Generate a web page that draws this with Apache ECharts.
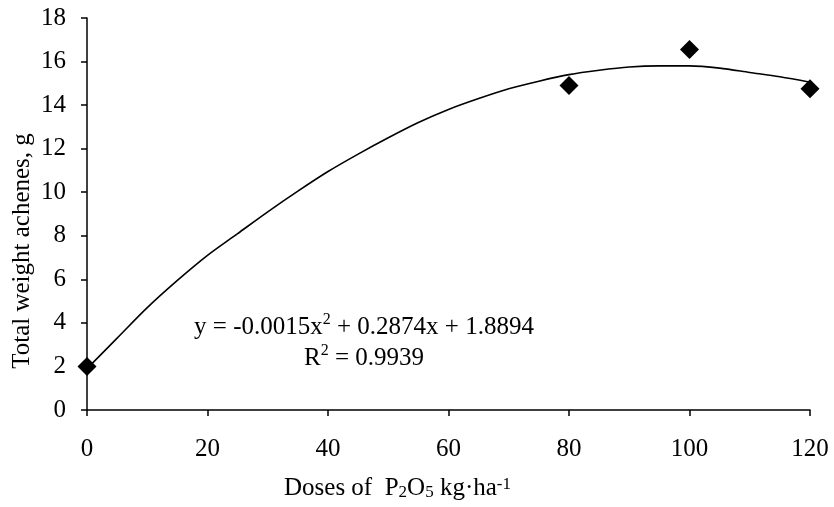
<!DOCTYPE html>
<html>
<head>
<meta charset="utf-8">
<script src="https://cdn.jsdelivr.net/npm/echarts@6/dist/echarts.min.js"></script>
<style>
  html, body { margin: 0; padding: 0; background: #fff; }
  #chart { width: 834px; height: 507px; }
</style>
</head>
<body>
<div id="chart"></div>
<script>
// measured points (dose, total weight)
var doses = [0, 80, 100, 120];
var weights = [2.0, 14.9, 16.55, 14.75];

// fitted curve
var curveX = [0, 5, 10, 15, 20, 25, 30, 35, 40, 45, 50, 55, 60, 65, 70, 75, 80, 85, 90, 95, 100, 105, 110, 115, 120];
var curveY = [1.9, 3.3, 4.7, 5.95, 7.1, 8.1, 9.1, 10.05, 10.95, 11.75, 12.5, 13.2, 13.8, 14.3, 14.75, 15.1, 15.4, 15.6, 15.75, 15.8, 15.8, 15.7, 15.5, 15.3, 15.05];

var xTicks = [0, 120, 20];
var yTicks = [0, 18, 2];

var chart = echarts.init(document.getElementById('chart'));
var font = '"Liberation Serif", "Times New Roman", serif';

var pts = doses.map(function (d, i) { return [d, weights[i]]; });
var curve = curveX.map(function (d, i) { return [d, curveY[i]]; });

var option = {
    backgroundColor: '#fff',
    animation: false,
    grid: {
        left: 87,
        right: 24,
        top: 18,
        bottom: 97,
        outerBoundsMode: 'none'
    },
    xAxis: {
        type: 'value',
        min: xTicks[0],
        max: xTicks[1],
        interval: xTicks[2],
        name: 'Doses of  P{sub|2}O{sub|5} kg·ha{sup|-1}',
        nameLocation: 'middle',
        nameGap: 66,
        nameMoveOverlap: false,
        nameTextStyle: {
            color: '#000',
            fontFamily: font,
            fontSize: 25,
            padding: [0, 102, 0, 0],
            rich: {
                sub: { fontSize: 17, fontFamily: font, color: '#000', verticalAlign: 'bottom', padding: [8, 0, 0, 0] },
                sup: { fontSize: 17, fontFamily: font, color: '#000', verticalAlign: 'top', padding: [0, 0, 8, 0] }
            }
        },
        axisLine: { lineStyle: { color: '#000', width: 1.5 } },
        axisTick: { inside: false, length: 6, lineStyle: { color: '#000', width: 1.5 } },
        axisLabel: { color: '#000', fontFamily: font, fontSize: 25, margin: 27 },
        splitLine: { show: false }
    },
    yAxis: {
        type: 'value',
        min: yTicks[0],
        max: yTicks[1],
        interval: yTicks[2],
        name: 'Total weight achenes, g',
        nameLocation: 'middle',
        nameGap: 52,
        nameMoveOverlap: false,
        nameTextStyle: {
            color: '#000',
            fontFamily: font,
            fontSize: 25,
            padding: [0, 74, 0, 0]
        },
        axisLine: { show: true, lineStyle: { color: '#000', width: 1.5 } },
        axisTick: { show: true, inside: false, length: 6, lineStyle: { color: '#000', width: 1.5 } },
        axisLabel: { color: '#000', fontFamily: font, fontSize: 25, margin: 21 },
        splitLine: { show: false }
    },
    graphic: [{
        type: 'text',
        x: 364,
        y: 312,
        style: {
            text: 'y = -0.0015x{sup|2} + 0.2874x + 1.8894\nR{sup|2} = 0.9939',
            align: 'center',
            fill: '#000',
            font: '25px ' + font,
            lineHeight: 31,
            rich: {
                sup: { fontSize: 16, fontFamily: font, fill: '#000', verticalAlign: 'top', lineHeight: 31, padding: [0, 0, 12, 0] }
            }
        }
    }],
    series: [{
        name: 'fit',
        type: 'line',
        data: curve,
        smooth: 0.3,
        showSymbol: false,
        lineStyle: { color: '#000', width: 1.6 },
        z: 2
    }, {
        name: 'obs',
        type: 'scatter',
        data: pts,
        symbol: 'diamond',
        symbolSize: 19,
        itemStyle: { color: '#000', opacity: 1 },
        z: 3
    }]
};

chart.setOption(option);
window.addEventListener('resize', function () {
    chart.resize();
});
</script>
</body>
</html>
